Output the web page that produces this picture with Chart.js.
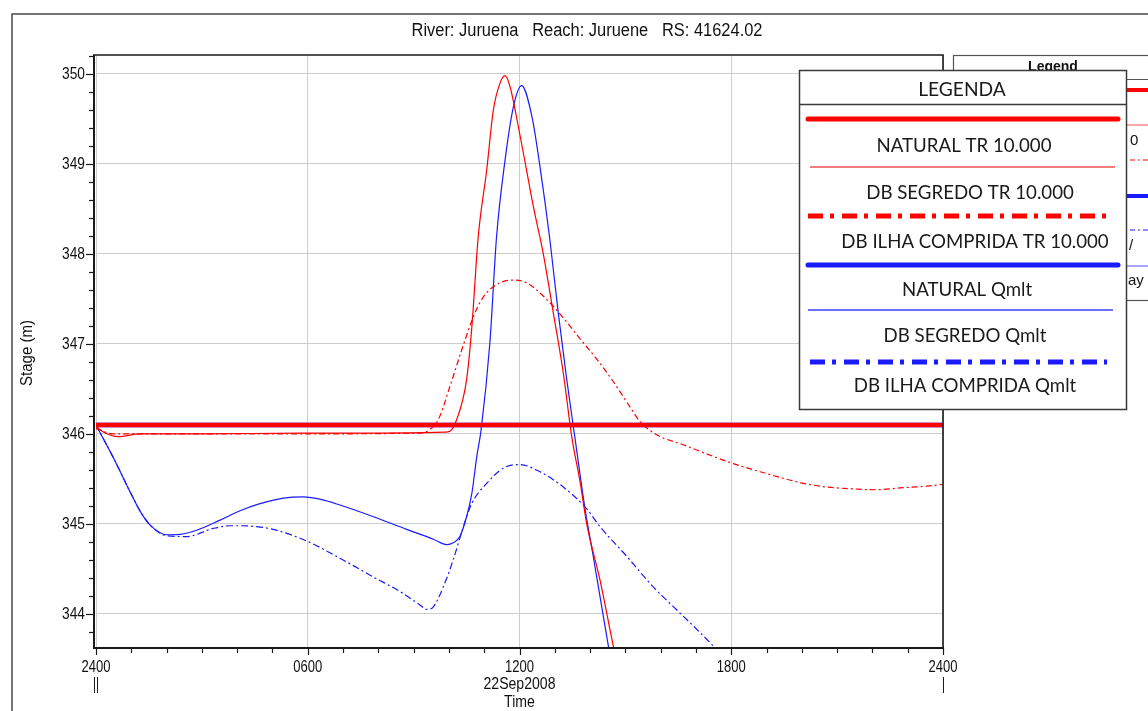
<!DOCTYPE html>
<html><head><meta charset="utf-8">
<script src="https://cdn.jsdelivr.net/npm/chart.js@4.4.1/dist/chart.umd.min.js"></script>
<style>html,body{margin:0;padding:0;background:#fff;overflow:hidden}canvas{display:block}</style>
</head><body>
<canvas id="c" width="1148" height="711"></canvas>
<script>
// ---------- texts ----------
const chartTitle = 'River: Juruena   Reach: Juruene   RS: 41624.02';
const yAxisTitle = 'Stage (m)';
const xAxisTitle = 'Time';
const xDateLabel = '22Sep2008';
const legendTitle = 'LEGENDA';
const oldLegendTitle = 'Legend';

// ---------- ticks ----------
const xTickHours = [0, 6, 12, 18, 24];
const xTickLabels = ['2400', '0600', '1200', '1800', '2400'];
const yTickValues = [344, 345, 346, 347, 348, 349, 350];
const yTickLabels = ['344', '345', '346', '347', '348', '349', '350'];

// ---------- series ----------
const seriesLabels = [
  'NATURAL TR 10.000',
  'DB SEGREDO TR 10.000',
  'DB ILHA COMPRIDA TR 10.000',
  'NATURAL Qmlt',
  'DB SEGREDO Qmlt',
  'DB ILHA COMPRIDA Qmlt'
];

const naturalTrHours = [0, 24];
const naturalTrStage = [346.1, 346.1];

const segredoTrHours = [0, 0.26, 0.62, 1.25, 3, 5.78, 8, 9.89, 10.03, 10.22, 10.5, 10.65, 10.83, 11.07, 11.26, 11.45, 11.59, 11.73, 11.97, 12.2, 12.39, 12.67, 12.96, 13.24, 13.48, 13.72, 13.9, 14.28, 14.66, 15.0];
const segredoTrStage = [346.08, 346.01, 345.97, 346.0, 346.0, 346.01, 346.01, 346.02, 346.03, 346.16, 346.6, 347.19, 348.19, 348.93, 349.6, 349.9, 349.98, 349.86, 349.41, 348.93, 348.53, 348.01, 347.34, 346.68, 345.97, 345.46, 345.01, 344.38, 343.64, 343.04];

const ilhaTrHours = [0, 0.5, 1.25, 5, 9.2, 9.42, 9.7, 10.03, 10.36, 10.69, 10.88, 11.07, 11.45, 11.83, 12.2, 12.68, 13.24, 13.71, 14.19, 14.66, 15.13, 15.41, 15.89, 16.64, 17.49, 18.06, 18.82, 19.95, 20.7, 21.46, 22.07, 22.78, 23.54, 24];
const ilhaTrStage = [346.06, 346.0, 346.0, 346.0, 346.01, 346.04, 346.16, 346.53, 346.93, 347.3, 347.46, 347.57, 347.68, 347.71, 347.68, 347.53, 347.29, 347.06, 346.83, 346.58, 346.3, 346.14, 345.99, 345.88, 345.75, 345.67, 345.58, 345.46, 345.41, 345.39, 345.38, 345.4, 345.42, 345.44];

const naturalQHours = [0, 24];
const naturalQStage = [346.1, 346.1];

const segredoQHours = [0, 0.5, 1.0, 1.3, 1.58, 2.0, 2.4, 2.85, 3.5, 4.1, 4.6, 5.1, 5.5, 5.87, 6.4, 6.91, 7.86, 8.8, 9.56, 9.94, 10.12, 10.31, 10.5, 10.65, 10.79, 10.91, 11.16, 11.35, 11.59, 11.83, 12.06, 12.35, 12.58, 12.86, 13.1, 13.34, 13.57, 13.86, 14.09, 14.52, 14.85];
const segredoQStage = [346.1, 345.73, 345.33, 345.11, 344.97, 344.88, 344.885, 344.93, 345.04, 345.15, 345.22, 345.27, 345.295, 345.3, 345.27, 345.21, 345.08, 344.94, 344.83, 344.77, 344.79, 344.86, 345.08, 345.34, 345.75, 346.04, 347.01, 348.19, 349.04, 349.64, 349.87, 349.53, 348.97, 348.16, 347.34, 346.6, 345.96, 345.16, 344.64, 343.64, 342.93];

const ilhaQHours = [0, 0.5, 1.0, 1.3, 1.58, 2.0, 2.57, 3.32, 3.8, 4.08, 4.55, 5.02, 5.97, 6.91, 7.86, 8.61, 9.18, 9.37, 9.56, 9.84, 10.12, 10.41, 10.65, 11.07, 11.54, 12.01, 12.58, 13.24, 13.9, 14.28, 15.04, 15.79, 16.55, 17.45, 17.97];
const ilhaQStage = [346.1, 345.73, 345.33, 345.11, 344.97, 344.87, 344.86, 344.95, 344.98, 344.98, 344.97, 344.94, 344.81, 344.62, 344.41, 344.25, 344.1, 344.05, 344.08, 344.3, 344.6, 344.97, 345.23, 345.45, 345.62, 345.66, 345.58, 345.41, 345.17, 344.97, 344.64, 344.3, 344.01, 343.66, 343.43];

function pair(h, v) { return h.map((x, i) => ({ x: x, y: v[i] })); }

const SANS = '"Liberation Sans", Arial, sans-serif';
function fitText(c, str, x, y, size, sx, align) {
  c.save();
  c.font = size + 'px ' + SANS;
  c.textAlign = align || 'center';
  c.textBaseline = 'middle';
  c.translate(x, y); c.scale(sx, 1);
  c.fillText(str, 0, 0);
  c.restore();
}
function scaleFor(c, str, size, width) {
  c.save(); c.font = size + 'px ' + SANS;
  const w = c.measureText(str).width; c.restore();
  return width / w;
}

const RED = '#ff0000', BLUE = '#1a1aff';

const decor = {
  id: 'decor',
  afterDraw(chart) {
    const c = chart.ctx, a = chart.chartArea, ys = chart.scales.y, xs = chart.scales.x;
    c.save();
    c.fillStyle = '#111';
    // outer frame
    c.strokeStyle = '#4a4a4a'; c.lineWidth = 1.5;
    c.beginPath(); c.moveTo(12, 712); c.lineTo(12, 14); c.lineTo(1150, 14); c.stroke();
    // plot frame
    c.strokeStyle = '#1a1a1a'; c.lineWidth = 1.6;
    c.beginPath(); c.moveTo(93, a.top); c.lineTo(a.right, a.top); c.lineTo(a.right, a.bottom); c.stroke();
    c.lineWidth = 2;
    c.beginPath(); c.moveTo(94, a.top); c.lineTo(94, a.bottom + 1); c.lineTo(a.right + 1, a.bottom + 1); c.stroke();
    // y ticks
    c.lineWidth = 1.2;
    for (let k = 0; k * 0.2 + 343.8 <= 350.21; k++) {
      const v = 343.8 + k * 0.2;
      const y = Math.round(ys.getPixelForValue(v)) + 0.5;
      const major = Math.abs(v - Math.round(v)) < 1e-6;
      c.beginPath(); c.moveTo(major ? 86 : 89, y); c.lineTo(94, y); c.stroke();
    }
    // x ticks
    for (let h = 0; h <= 24; h++) {
      const x = Math.round(xs.getPixelForValue(h)) + 0.5;
      const major = h % 6 === 0;
      c.beginPath(); c.moveTo(x, a.bottom + 1); c.lineTo(x, a.bottom + (major ? 8 : 6)); c.stroke();
    }
    // tick labels (positions from the chart's scales)
    const syl = scaleFor(c, '350', 17, 23);
    yTickValues.forEach((v, i) => fitText(c, yTickLabels[i], 85, ys.getPixelForValue(v) + 0.5, 17, syl, 'right'));
    const sxl = scaleFor(c, '2400', 17, 29);
    xTickHours.forEach((h, i) => fitText(c, xTickLabels[i], xs.getPixelForValue(h), 667, 17, sxl, 'center'));
    // date markers
    c.lineWidth = 1;
    c.beginPath();
    c.moveTo(94.5, 677); c.lineTo(94.5, 693);
    c.moveTo(97.5, 677); c.lineTo(97.5, 693);
    c.moveTo(943.5, 677); c.lineTo(943.5, 693);
    c.stroke();
    // titles
    fitText(c, chartTitle, 587, 31, 18, scaleFor(c, chartTitle, 18, 351), 'center');
    const sd = scaleFor(c, xDateLabel, 17, 72);
    fitText(c, xDateLabel, xs.getPixelForValue(12), 684, 17, sd, 'center');
    fitText(c, xAxisTitle, xs.getPixelForValue(12), 702, 17, sd, 'center');
    c.save(); c.translate(28, 353); c.rotate(-Math.PI / 2);
    fitText(c, yAxisTitle, 0, 0, 16, scaleFor(c, yAxisTitle, 16, 66), 'center');
    c.restore();

    // ---- underlying original legend (partly hidden) ----
    c.strokeStyle = '#555'; c.lineWidth = 1.2;
    c.strokeRect(953.5, 55.5, 260, 245);
    c.beginPath(); c.moveTo(953, 79.5); c.lineTo(1148, 79.5); c.stroke();
    c.font = 'bold 14px ' + SANS;
    c.textAlign = 'center'; c.textBaseline = 'middle';
    c.fillText(oldLegendTitle, 1053, 67);
    const oldLines = [[90, RED, 4, []], [125, '#f05050', 1.2, []], [160, RED, 1.2, [5, 3, 2, 3]], [196, BLUE, 4, []], [230, BLUE, 1.2, [5, 3, 2, 3]], [266, '#5050ff', 1.2, []]];
    oldLines.forEach(o => {
      c.strokeStyle = o[1]; c.lineWidth = o[2]; c.setLineDash(o[3]);
      c.beginPath(); c.moveTo(1000, o[0]); c.lineTo(1150, o[0]); c.stroke();
    });
    c.setLineDash([]);
    c.fillStyle = '#111';
    c.font = '15px ' + SANS;
    c.textAlign = 'left';
    c.fillText('0', 1130, 141);
    c.fillText('/', 1129, 246);
    c.fillText('ay', 1128, 281);

    // ---- overlay legend ----
    const L = 799, R = 1126, T = 70, B = 409;
    c.fillStyle = '#fff'; c.fillRect(L, T, R - L, B - T);
    c.strokeStyle = '#3a3a3a'; c.lineWidth = 1.5;
    c.strokeRect(L + 0.5, T + 0.5, R - L, B - T);
    c.beginPath(); c.moveTo(L, 104.5); c.lineTo(R, 104.5); c.stroke();
    c.font = '20px Lato, "Open Sans", sans-serif';
    const w = c.measureText(seriesLabels[0]).width;
    const fs = 20 * 175 / w;
    c.fillStyle = '#1a1a1a'; c.textAlign = 'center'; c.textBaseline = 'middle';
    c.font = (fs * 1.03).toFixed(2) + 'px Lato, "Open Sans", sans-serif';
    c.fillText(legendTitle, 962, 90);
    c.font = fs.toFixed(2) + 'px Lato, "Open Sans", sans-serif';
    const samples = [
      [119, RED, 5, [], 808, 1118, 'round'],
      [167, '#f05050', 1.5, [], 810, 1115, 'butt'],
      [216, RED, 5, [15, 7, 4, 8], 808, 1110, 'butt'],
      [265, BLUE, 5, [], 808, 1118, 'round'],
      [310, '#3c3cff', 1.5, [], 808, 1113, 'butt'],
      [362, BLUE, 5, [15, 7, 4, 8], 810, 1107, 'butt']
    ];
    const labelPos = [[964, 146], [970, 193], [975, 242], [967, 290], [965, 336], [965, 386]];
    samples.forEach((s, i) => {
      c.strokeStyle = s[1]; c.lineWidth = s[2]; c.setLineDash(s[3]); c.lineCap = s[6];
      c.beginPath(); c.moveTo(s[4], s[0]); c.lineTo(s[5], s[0]); c.stroke();
      c.setLineDash([]); c.lineCap = 'butt';
      c.fillText(seriesLabels[i], labelPos[i][0], labelPos[i][1]);
    });
    c.restore();
  }
};

new Chart(document.getElementById('c').getContext('2d'), {
  type: 'line',
  data: {
    datasets: [
      { label: seriesLabels[0], data: pair(naturalTrHours, naturalTrStage), borderColor: RED, borderWidth: 4.5, order: 0 },
      { label: seriesLabels[1], data: pair(segredoTrHours, segredoTrStage), borderColor: RED, borderWidth: 1.2, order: 1, cubicInterpolationMode: 'monotone' },
      { label: seriesLabels[2], data: pair(ilhaTrHours, ilhaTrStage), borderColor: RED, borderWidth: 1.2, borderDash: [6, 3, 2, 3], order: 2, cubicInterpolationMode: 'monotone' },
      { label: seriesLabels[3], data: pair(naturalQHours, naturalQStage), borderColor: BLUE, borderWidth: 4.5, order: 6 },
      { label: seriesLabels[4], data: pair(segredoQHours, segredoQStage), borderColor: BLUE, borderWidth: 1.2, order: 3, cubicInterpolationMode: 'monotone' },
      { label: seriesLabels[5], data: pair(ilhaQHours, ilhaQStage), borderColor: BLUE, borderWidth: 1.2, borderDash: [7, 3, 2, 3], order: 4, cubicInterpolationMode: 'monotone' }
    ]
  },
  options: {
    responsive: false, animation: false, devicePixelRatio: 1,
    layout: { padding: { left: 0, top: 55, right: 1148 - 943, bottom: 0 } },
    elements: { point: { radius: 0 }, line: { fill: false } },
    plugins: { legend: { display: false }, tooltip: { enabled: false }, title: { display: false } },
    scales: {
      x: {
        type: 'linear', min: 0, max: 24,
        afterFit(s) { s.height = 64; },
        afterBuildTicks(s) { s.ticks = xTickHours.map(v => ({ value: v })); },
        ticks: { display: false },
        grid: { color: '#cdcdcd', drawTicks: false, lineWidth: 1 },
        border: { display: false }
      },
      y: {
        type: 'linear', min: 343.633, max: 350.21,
        afterFit(s) { s.width = 96; },
        afterBuildTicks(s) { s.ticks = yTickValues.map(v => ({ value: v })); },
        ticks: { display: false },
        grid: { color: '#cdcdcd', drawTicks: false, lineWidth: 1 },
        border: { display: false }
      }
    }
  },
  plugins: [decor]
});
</script>
</body></html>
